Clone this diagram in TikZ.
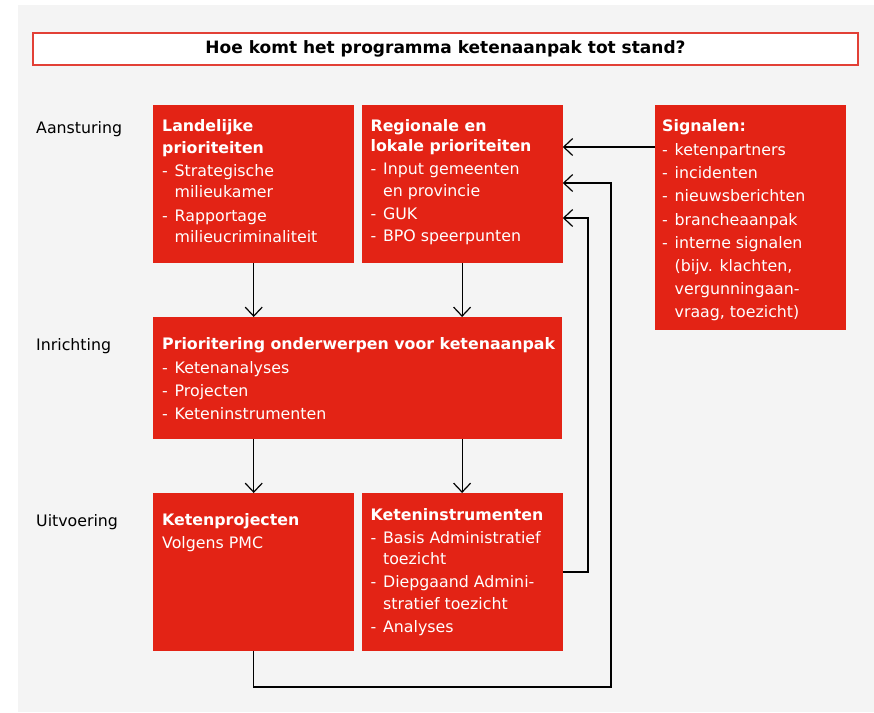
\documentclass[tikz,border=0pt]{standalone}
\usepackage{fontspec}
\setmainfont{DejaVu Sans}
\usetikzlibrary{arrows.meta,positioning}
\definecolor{ketenrood}{RGB}{227,35,21}
\definecolor{kaderrood}{RGB}{226,64,54}
\definecolor{achtergrond}{RGB}{244,244,244}
\newcommand{\fs}{\fontsize{15.8}{22.4}\selectfont}
\newcommand{\itm}{\makebox[12.5pt][l]{-}}
\newcommand{\ctd}{\hspace*{12.5pt}}

\begin{document}
\begin{tikzpicture}[x=1pt, y=-1pt,
  blk/.style={fill=ketenrood, anchor=north west, inner sep=0pt},
  blktxt/.style={anchor=north west, text=white, align=left, inner sep=0pt, font=\fs},
  rowlbl/.style={anchor=base west, inner sep=0pt, font=\fs},
  flow/.style={-{Straight Barb[length=9pt,width=17pt]}, line width=1.2pt},
]
\useasboundingbox (0,0) rectangle (874,712);
\fill[achtergrond] (18,5) rectangle (874,712);

%% ===== title =====
\node[draw=kaderrood, line width=1.5pt, fill=white, minimum width=825pt,
      minimum height=32pt, inner sep=0pt, font=\fontsize{17}{20}\selectfont\bfseries]
  (titel) at (445.5,49) {Hoe komt het programma ketenaanpak tot stand?};

%% ===== row labels =====
\node[rowlbl] (aanst) at (36,133) {Aansturing};
\node[rowlbl] (inricht) at (36,350) {Inrichting};
\node[rowlbl] (uitv) at (36,526) {Uitvoering};

%% ===== Aansturing =====
\node[blk, minimum width=201pt, minimum height=158pt] (land) at (153,105) {};
\node[blk, minimum width=201pt, minimum height=158pt, right=7pt of land.north east, anchor=north west] (reg) {};
\node[blk, minimum width=191pt, minimum height=225pt] (sig) at (655,105) {};

% first line carries a \strut, so the top of the text sits 0.7\baselineskip above its baseline
\node[blktxt] (land-t) at ([shift={(9,10.8)}]land.north west)
  {\strut\textbf{Landelijke}\\[-1pt] \textbf{prioriteiten}\\[1pt]
   \itm Strategische\\[-1pt] \ctd milieukamer\\[1pt]
   \itm Rapportage\\[-1pt] \ctd milieucriminaliteit};
\node[blktxt] (reg-t) at ([shift={(9,10.8)}]reg.north west)
  {\strut\textbf{Regionale en}\\[-3pt] \textbf{lokale prioriteiten}\\[1pt]
   \itm Input gemeenten\\ \ctd en provincie\\
   \itm GUK\\
   \itm BPO speerpunten};
\node[blktxt, font=\fontsize{15.8}{23.1}\selectfont] (sig-t) at ([shift={(7,10.3)}]sig.north west)
  {\strut\textbf{Signalen:}\\[1pt]
   \itm ketenpartners\\ \itm incidenten\\ \itm nieuwsberichten\\
   \itm brancheaanpak\\ \itm interne signalen\\ \ctd (bijv. klachten,\\
   \ctd vergunningaan-\\ \ctd vraag, toezicht)};

%% ===== Inrichting =====
\node[blk, minimum width=409pt, minimum height=122pt] (prio) at (153,317) {};
\node[blktxt, font=\fontsize{15.8}{23.3}\selectfont] (prio-t) at ([shift={(9,16.2)}]prio.north west)
  {\strut\textbf{Prioritering onderwerpen voor ketenaanpak}\\
   \itm Ketenanalyses\\ \itm Projecten\\ \itm Keteninstrumenten};

%% ===== Uitvoering =====
\node[blk, minimum width=201pt, minimum height=158pt] (proj) at (153,493) {};
\node[blk, minimum width=201pt, minimum height=158pt, right=7pt of proj.north east, anchor=north west] (instr) {};

\node[blktxt, font=\fontsize{15.8}{23.5}\selectfont] (proj-t) at ([shift={(9,15.5)}]proj.north west)
  {\strut\textbf{Ketenprojecten}\\ Volgens PMC};
\node[blktxt] (instr-t) at ([shift={(9,11.3)}]instr.north west)
  {\strut\textbf{Keteninstrumenten}\\[0.5pt]
   \itm Basis Administratief\\[-1pt] \ctd toezicht\\[1pt]
   \itm Diepgaand Admini-\\[-1pt] \ctd stratief toezicht\\[1pt]
   \itm Analyses};

%% ===== connectors =====
\coordinate (lus1) at (588,218);
\coordinate (lus2) at (611,183);
\coordinate (onder) at (611,687);

\draw[flow] (land.south) -- (land.south |- prio.north);
\draw[flow] (reg.south) -- (reg.south |- prio.north);
\draw[flow] (proj.north |- prio.south) -- (proj.north);
\draw[flow] (instr.north |- prio.south) -- (instr.north);
\draw[flow] ([yshift=-42pt]sig.north west) -- ([yshift=-42pt]sig.north west -| reg.east);
\draw[flow] ([yshift=-79pt]instr.north east) -| (lus1) -- (lus1 -| reg.east);
\draw[flow] (proj.south) |- (onder) -- (lus2) -- (lus2 -| reg.east);

\end{tikzpicture}
\end{document}
